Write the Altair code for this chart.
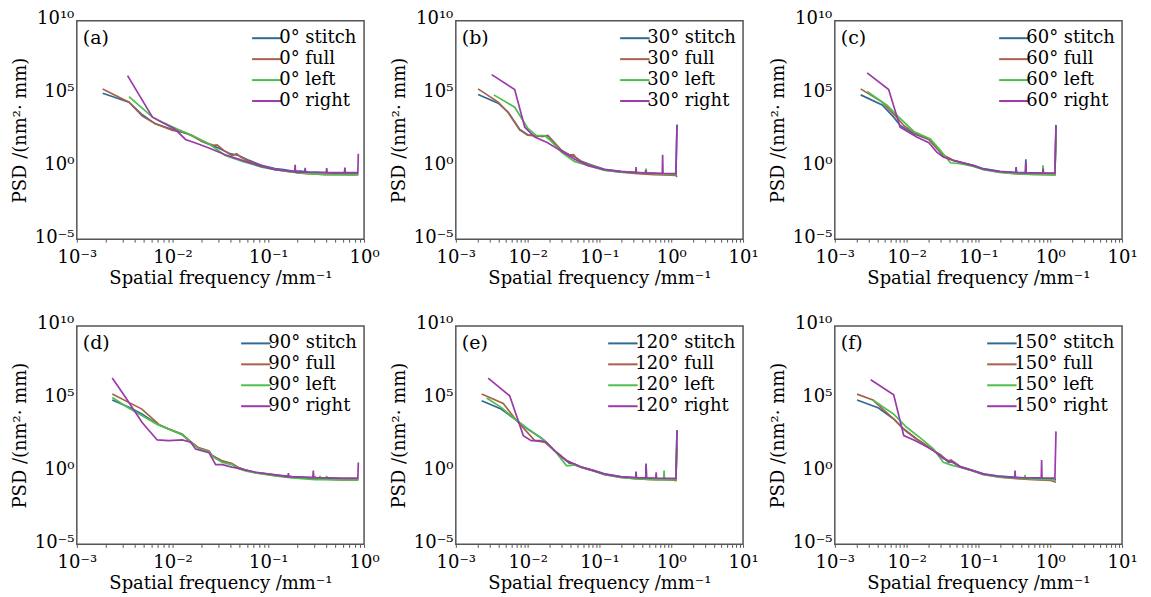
import altair as alt
import pandas as pd

FONT = "DejaVu Serif"
SERIES = ["stitch", "full", "left", "right"]
COLORS = ["#2f6a96", "#a8614a", "#4cbf4c", "#9b3aa8"]
ANGLES = ["0", "30", "60", "90", "120", "150"]
PANEL_LABELS = ["(a)", "(b)", "(c)", "(d)", "(e)", "(f)"]
X_MAX_EXP = [0, 1, 1, 0, 1, 1]
Y_TICKS = [1e-5, 1e0, 1e5, 1e10]
X_MINOR_MULTS = [1, 2, 3, 4, 5, 6, 7, 8, 9]

# (log10 spatial frequency [1/mm], log10 PSD [nm^2 mm])
A_STITCH = [(-2.73,5.02),(-2.455,4.41),(-2.316,3.54),(-2.18,2.92),(-2.0,2.53),(-1.9,2.35),(-1.795,2.12),(-1.69,1.71),(-1.59,1.44),(-1.52,1.26),(-1.40,0.87),(-1.31,0.75),(-1.2,0.41),(-1.07,0.07),(-0.93,-0.16),(-0.84,-0.22),(-0.75,-0.32),(-0.66,-0.33),(-0.58,-0.39),(-0.5,-0.41),(-0.41,-0.43),(-0.32,-0.47),(-0.23,-0.48),(-0.14,-0.50),(-0.06,-0.50)]
A_FULL = [(-2.73,5.32),(-2.455,4.41),(-2.316,3.45),(-2.18,2.92),(-2.0,2.47),(-1.86,2.31),(-1.795,2.08),(-1.69,1.71),(-1.57,1.44),(-1.535,1.48),(-1.465,1.10),(-1.38,0.75),(-1.33,0.87),(-1.29,0.64),(-1.2,0.34),(-1.135,0.18),(-1.07,0.02),(-0.93,-0.21),(-0.84,-0.30),(-0.75,-0.39),(-0.72,-0.30),(-0.70,-0.45),(-0.58,-0.50),(-0.41,-0.57),(-0.3,-0.56),(-0.23,-0.57),(-0.12,-0.58),(-0.06,-0.57)]
A_LEFT = [(-2.455,4.79),(-2.21,3.38),(-2.11,3.04),(-1.94,2.53),(-1.795,2.12),(-1.62,1.55),(-1.45,0.75),(-1.27,0.34),(-1.07,-0.05),(-0.93,-0.23),(-0.75,-0.39),(-0.58,-0.50),(-0.41,-0.55),(-0.23,-0.57),(-0.06,-0.57)]
A_RIGHT = [(-2.47,6.23),(-2.21,3.38),(-1.97,2.53),(-1.865,1.85),(-1.76,1.60),(-1.62,1.26),(-1.45,0.80),(-1.27,0.41),(-1.07,0.0),(-0.93,-0.23),(-0.75,-0.34),(-0.725,-0.39),(-0.72,0.11),(-0.715,-0.39),(-0.62,-0.39),(-0.615,-0.11),(-0.61,-0.39),(-0.395,-0.43),(-0.39,-0.11),(-0.385,-0.43),(-0.205,-0.43),(-0.2,-0.09),(-0.195,-0.43),(-0.065,-0.43),(-0.06,0.87)]

B_STITCH = [(-2.69,4.93),(-2.41,4.34),(-2.27,3.72),(-2.11,2.53),(-2.0,2.17),(-1.9,2.12),(-1.79,2.05),(-1.72,2.12),(-1.625,1.62),(-1.53,1.10),(-1.42,0.80),(-1.35,0.68),(-1.25,0.34),(-1.12,0.11),(-0.93,-0.21),(-0.70,-0.34),(-0.47,-0.43),(-0.24,-0.50),(-0.005,-0.55),(0.065,-0.57),(0.08,2.88)]
B_FULL = [(-2.69,5.32),(-2.41,4.41),(-2.27,3.68),(-2.11,2.50),(-2.0,2.14),(-1.9,2.10),(-1.79,2.05),(-1.72,2.10),(-1.625,1.60),(-1.53,1.08),(-1.42,0.78),(-1.36,0.80),(-1.33,0.62),(-1.25,0.32),(-1.12,0.08),(-0.93,-0.25),(-0.70,-0.40),(-0.47,-0.50),(-0.24,-0.57),(-0.005,-0.60),(0.065,-0.62),(0.08,-0.73)]
B_LEFT = [(-2.47,4.91),(-2.18,4.06),(-2.0,2.63),(-1.88,2.12),(-1.765,2.12),(-1.67,1.71),(-1.53,0.98),(-1.35,0.34),(-1.16,0.07),(-0.93,-0.27),(-0.70,-0.39),(-0.47,-0.43),(-0.355,-0.45),(-0.35,-0.16),(-0.345,-0.45),(-0.24,-0.50),(-0.005,-0.55),(0.065,-0.57)]
B_RIGHT = [(-2.5,6.30),(-2.18,5.27),(-2.04,2.69),(-1.9,2.01),(-1.72,1.62),(-1.625,1.32),(-1.53,1.05),(-1.35,0.50),(-1.16,0.05),(-0.93,-0.23),(-0.70,-0.36),(-0.495,-0.43),(-0.49,-0.05),(-0.485,-0.43),(-0.36,-0.45),(-0.355,-0.25),(-0.35,-0.45),(-0.125,-0.48),(-0.12,0.80),(-0.115,-0.48),(0.065,-0.50),(0.08,2.81)]

C_STITCH = [(-2.64,4.91),(-2.34,4.22),(-2.18,3.38),(-2.09,2.81),(-1.9,2.24),(-1.69,1.85),(-1.625,1.48),(-1.49,0.75),(-1.35,0.41),(-1.21,0.25),(-1.07,0.07),(-0.93,-0.16),(-0.70,-0.34),(-0.48,-0.43),(-0.475,-0.05),(-0.47,-0.43),(-0.345,-0.43),(-0.34,0.48),(-0.335,-0.43),(-0.2,-0.46),(0.065,-0.50),(0.08,2.85)]
C_FULL = [(-2.64,5.32),(-2.34,4.41),(-2.16,3.49),(-2.04,2.81),(-1.9,2.30),(-1.69,1.87),(-1.625,1.50),(-1.49,0.78),(-1.35,0.42),(-1.21,0.22),(-1.07,0.03),(-0.93,-0.20),(-0.70,-0.40),(-0.47,-0.50),(-0.24,-0.55),(0.065,-0.58),(0.08,2.12)]
C_LEFT = [(-2.55,5.14),(-2.27,4.18),(-2.11,3.38),(-1.9,2.40),(-1.67,1.89),(-1.53,1.10),(-1.39,0.25),(-1.25,0.18),(-1.07,0.0),(-0.93,-0.23),(-0.70,-0.42),(-0.47,-0.52),(-0.24,-0.55),(-0.105,-0.55),(-0.1,0.07),(-0.095,-0.55),(0.065,-0.57),(0.08,2.12)]
C_RIGHT = [(-2.55,6.42),(-2.25,5.27),(-2.09,2.69),(-1.86,2.01),(-1.69,1.62),(-1.58,0.98),(-1.49,0.64),(-1.35,0.40),(-1.21,0.22),(-1.07,0.05),(-0.93,-0.20),(-0.70,-0.36),(-0.48,-0.42),(-0.475,-0.10),(-0.47,-0.42),(-0.345,-0.44),(-0.34,0.30),(-0.335,-0.44),(-0.105,-0.45),(-0.1,-0.15),(-0.095,-0.45),(0.065,-0.47),(0.08,2.81)]

D_STITCH = [(-2.63,4.91),(-2.455,4.41),(-2.32,3.95),(-2.16,3.26),(-2.04,2.92),(-1.9,2.53),(-1.81,2.01),(-1.73,1.62),(-1.62,1.39),(-1.59,1.10),(-1.48,0.71),(-1.38,0.53),(-1.31,0.25),(-1.24,0.11),(-1.135,-0.05),(-0.93,-0.23),(-0.75,-0.34),(-0.58,-0.39),(-0.41,-0.46),(-0.23,-0.50),(-0.06,-0.53)]
D_FULL = [(-2.63,5.32),(-2.32,4.29),(-2.14,3.22),(-2.04,2.92),(-1.9,2.58),(-1.81,2.05),(-1.73,1.64),(-1.62,1.42),(-1.59,1.12),(-1.48,0.73),(-1.38,0.55),(-1.31,0.27),(-1.24,0.10),(-1.135,-0.08),(-0.93,-0.26),(-0.75,-0.40),(-0.58,-0.47),(-0.41,-0.53),(-0.23,-0.57),(-0.06,-0.58)]
D_LEFT = [(-2.63,5.09),(-2.455,4.35),(-2.32,3.85),(-2.16,3.24),(-2.04,2.90),(-1.9,2.55),(-1.81,2.0),(-1.73,1.58),(-1.62,1.36),(-1.59,1.05),(-1.48,0.62),(-1.38,0.48),(-1.31,0.20),(-1.24,0.05),(-1.135,-0.10),(-0.93,-0.30),(-0.75,-0.43),(-0.58,-0.52),(-0.515,-0.55),(-0.51,-0.30),(-0.505,-0.55),(-0.465,-0.56),(-0.46,-0.30),(-0.455,-0.56),(-0.395,-0.56),(-0.39,-0.30),(-0.385,-0.56),(-0.23,-0.58),(-0.06,-0.58)]
D_RIGHT = [(-2.63,6.42),(-2.49,5.09),(-2.32,3.38),(-2.16,2.17),(-2.04,2.12),(-1.9,2.17),(-1.81,2.01),(-1.76,1.55),(-1.62,1.30),(-1.55,0.48),(-1.48,0.48),(-1.38,0.30),(-1.31,0.22),(-1.135,-0.05),(-0.93,-0.23),(-0.795,-0.36),(-0.79,-0.11),(-0.785,-0.36),(-0.58,-0.41),(-0.535,-0.42),(-0.53,0.07),(-0.525,-0.42),(-0.23,-0.45),(-0.065,-0.45),(-0.06,0.62)]

E_STITCH = [(-2.64,4.86),(-2.37,4.29),(-2.16,3.54),(-2.0,2.92),(-1.81,2.31),(-1.625,1.44),(-1.46,0.75),(-1.42,0.57),(-1.35,0.53),(-1.25,0.30),(-1.07,0.07),(-0.93,-0.16),(-0.70,-0.34),(-0.495,-0.43),(-0.49,0.0),(-0.485,-0.43),(-0.355,-0.45),(-0.35,0.55),(-0.345,-0.45),(-0.24,-0.48),(-0.005,-0.53),(0.065,-0.55),(0.08,2.81)]
E_FULL = [(-2.64,5.32),(-2.34,4.68),(-2.16,3.54),(-1.9,2.12),(-1.76,2.01),(-1.625,1.44),(-1.46,0.78),(-1.35,0.50),(-1.25,0.28),(-1.07,0.03),(-0.93,-0.20),(-0.70,-0.40),(-0.47,-0.50),(-0.24,-0.55),(-0.005,-0.58),(0.065,-0.62),(0.08,1.89)]
E_LEFT = [(-2.57,5.05),(-2.37,4.41),(-2.16,3.54),(-2.0,2.95),(-1.76,2.12),(-1.625,1.44),(-1.46,0.41),(-1.42,0.41),(-1.35,0.45),(-1.25,0.28),(-1.07,0.02),(-0.93,-0.22),(-0.70,-0.40),(-0.47,-0.50),(-0.24,-0.55),(-0.105,-0.56),(-0.1,0.07),(-0.095,-0.56),(0.065,-0.58),(0.08,1.89)]
E_RIGHT = [(-2.55,6.42),(-2.25,5.2),(-2.06,2.47),(-1.95,2.12),(-1.83,2.12),(-1.74,2.01),(-1.625,1.42),(-1.46,0.74),(-1.35,0.52),(-1.25,0.30),(-1.07,0.05),(-0.93,-0.18),(-0.70,-0.36),(-0.495,-0.42),(-0.49,-0.05),(-0.485,-0.42),(-0.355,-0.44),(-0.35,0.46),(-0.345,-0.44),(-0.215,-0.45),(-0.21,-0.05),(-0.205,-0.45),(0.065,-0.47),(0.08,2.85)]

F_STITCH = [(-2.69,4.91),(-2.39,4.36),(-2.18,3.61),(-2.04,2.92),(-1.86,2.24),(-1.72,1.78),(-1.625,1.44),(-1.53,1.16),(-1.42,0.64),(-1.35,0.68),(-1.25,0.34),(-1.07,0.07),(-0.93,-0.16),(-0.70,-0.32),(-0.47,-0.39),(-0.24,-0.46),(-0.005,-0.50),(0.08,-0.57)]
F_FULL = [(-2.69,5.32),(-2.47,4.91),(-2.18,3.61),(-2.04,2.90),(-1.86,2.22),(-1.72,1.76),(-1.625,1.42),(-1.53,1.14),(-1.42,0.72),(-1.38,0.80),(-1.35,0.66),(-1.25,0.32),(-1.07,0.04),(-0.93,-0.20),(-0.70,-0.38),(-0.47,-0.48),(-0.24,-0.55),(-0.005,-0.60),(0.08,-0.73)]
F_LEFT = [(-2.47,4.91),(-2.18,3.95),(-2.0,3.04),(-1.81,2.31),(-1.625,1.55),(-1.49,0.64),(-1.35,0.41),(-1.25,0.28),(-1.07,0.02),(-0.93,-0.22),(-0.70,-0.38),(-0.47,-0.45),(-0.355,-0.48),(-0.35,-0.22),(-0.345,-0.48),(-0.24,-0.52),(0.065,-0.55)]
F_RIGHT = [(-2.5,6.30),(-2.18,5.27),(-2.04,2.47),(-1.9,2.17),(-1.79,1.89),(-1.625,1.44),(-1.49,0.90),(-1.35,0.60),(-1.25,0.32),(-1.07,0.05),(-0.93,-0.18),(-0.70,-0.34),(-0.495,-0.41),(-0.49,0.07),(-0.485,-0.41),(-0.125,-0.44),(-0.12,0.80),(-0.115,-0.44),(0.065,-0.45),(0.08,2.76)]

PANEL_DATA = [
    [A_STITCH, A_FULL, A_LEFT, A_RIGHT],
    [B_STITCH, B_FULL, B_LEFT, B_RIGHT],
    [C_STITCH, C_FULL, C_LEFT, C_RIGHT],
    [D_STITCH, D_FULL, D_LEFT, D_RIGHT],
    [E_STITCH, E_FULL, E_LEFT, E_RIGHT],
    [F_STITCH, F_FULL, F_LEFT, F_RIGHT],
]

SUP = {-3: "10⁻³", -2: "10⁻²", -1: "10⁻¹", 0: "10⁰", 1: "10¹"}
E = "(log(datum.value)/LN10)"
X_LABEL_EXPR = (
    f"abs({E} - round({E})) > 0.01 ? '' : "
    f"round({E}) == -3 ? '{SUP[-3]}' : round({E}) == -2 ? '{SUP[-2]}' : "
    f"round({E}) == -1 ? '{SUP[-1]}' : round({E}) == 0 ? '{SUP[0]}' : '{SUP[1]}'"
)
Y_LABEL_EXPR = ("datum.value >= 1e9 ? '10¹⁰' : datum.value >= 1e4 ? '10⁵' : "
                "datum.value >= 0.1 ? '10⁰' : '10⁻⁵'")


def panel(i):
    names = [f"{ANGLES[i]}° {s}" for s in SERIES]
    xmax_exp = X_MAX_EXP[i]
    x_ticks = [m * 10 ** e for e in range(-3, xmax_exp) for m in X_MINOR_MULTS] + [10 ** xmax_exp]
    color = alt.Color(
        "series:N",
        scale=alt.Scale(domain=names, range=COLORS),
        legend=alt.Legend(
            title=None, orient="top-right", offset=7, padding=0,
            labelFont=FONT, labelFontSize=18, labelColor="black",
            symbolType="M-1.6,0L1.6,0", symbolSize=340, symbolStrokeWidth=2,
            rowPadding=1, labelOffset=2, labelLimit=300,
        ),
    )
    x = alt.X(
        "f:Q",
        scale=alt.Scale(type="log", domain=[1e-3, 10 ** xmax_exp], nice=False),
        axis=alt.Axis(values=x_ticks, labelExpr=X_LABEL_EXPR, title="Spatial frequency /mm⁻¹",
                      tickSize=3, labelPadding=6, titlePadding=3, labelFlush=False,
                      labelOverlap=False),
    )
    y = alt.Y(
        "psd:Q",
        scale=alt.Scale(type="log", domain=[1e-5, 1e10], nice=False),
        axis=alt.Axis(values=Y_TICKS, labelExpr=Y_LABEL_EXPR, title="PSD /(nm²· mm)",
                      ticks=False, labelPadding=3, titlePadding=5, labelFlush=False,
                      labelOverlap=False, labelOffset=-2),
    )
    layers = []
    for name, pts in zip(names, PANEL_DATA[i]):
        df = pd.DataFrame({
            "series": name,
            "k": list(range(len(pts))),
            "f": [10 ** p[0] for p in pts],
            "psd": [10 ** p[1] for p in pts],
        })
        layers.append(
            alt.Chart(df).mark_line(strokeWidth=1.7, clip=True).encode(
                x=x, y=y, color=color, order="k:Q"
            )
        )
    label = alt.Chart(pd.DataFrame({"t": [PANEL_LABELS[i]]})).mark_text(
        font=FONT, fontSize=19, align="left", baseline="top", color="black"
    ).encode(x=alt.value(6), y=alt.value(8), text="t:N")
    return alt.layer(*layers, label).properties(width=288, height=219)


chart = alt.concat(
    *[panel(i) for i in range(6)],
    columns=3,
    spacing={"row": 87, "column": 92},
    bounds="flush",
).resolve_scale(
    color="independent", x="independent", y="independent"
).resolve_legend(color="independent").properties(
    padding={"left": 2, "top": 0, "right": 5, "bottom": 5}
).configure_view(
    stroke="#555555", strokeWidth=1.5
).configure_axis(
    labelFont=FONT, titleFont=FONT, labelFontSize=18, titleFontSize=18,
    labelColor="black", titleColor="black", titleFontWeight="normal",
    grid=False, domain=False, tickColor="#555555",
)

chart.save("out.html", embed_options={"renderer": "svg", "actions": False})
